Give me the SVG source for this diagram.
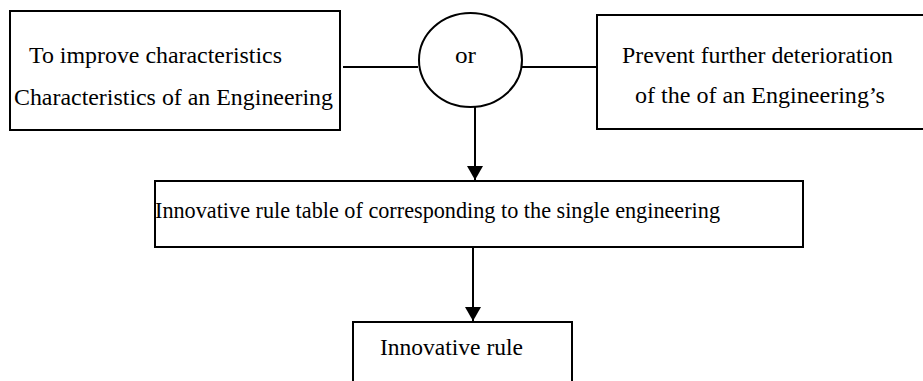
<svg xmlns="http://www.w3.org/2000/svg" width="923" height="381" viewBox="0 0 923 381">
<defs>
<style>
.box{fill:#fff;stroke:#000;stroke-width:2}
.ln{fill:none;stroke:#000;stroke-width:2}
text{font-family:"Liberation Serif","Times New Roman",serif;font-size:24px;fill:#000}
</style>
<marker id="ah" markerWidth="14" markerHeight="16" refX="14" refY="8" orient="auto" markerUnits="userSpaceOnUse">
<path d="M0,0 L14,8 L0,16 Z" fill="#000"/>
</marker>
</defs>
<rect width="923" height="381" fill="#fff"/>
<g id="connectors">
<line class="ln" x1="343" y1="67" x2="418" y2="67"/>
<line class="ln" x1="522" y1="67" x2="597" y2="67"/>
<line class="ln" x1="475" y1="107" x2="475" y2="180" marker-end="url(#ah)"/>
<line class="ln" x1="473" y1="248" x2="473" y2="321" marker-end="url(#ah)"/>
</g>
<g id="left">
<rect class="box" x="10" y="11" width="330" height="119"/>
<text x="29" y="63" textLength="253" lengthAdjust="spacingAndGlyphs">To improve characteristics</text>
<text x="14" y="105" textLength="319" lengthAdjust="spacingAndGlyphs">Characteristics of an Engineering</text>
</g>
<g id="or">
<ellipse class="box" cx="470.5" cy="60" rx="51.5" ry="47"/>
<text x="455" y="63" textLength="21" lengthAdjust="spacingAndGlyphs">or</text>
</g>
<g id="right">
<rect class="box" x="597" y="15" width="340" height="114"/>
<text x="622" y="63" textLength="271" lengthAdjust="spacingAndGlyphs">Prevent further deterioration</text>
<text x="635" y="103" textLength="250" lengthAdjust="spacingAndGlyphs">of the of an Engineering’s</text>
</g>
<g id="table">
<rect class="box" x="155" y="181" width="648" height="66"/>
<text x="155" y="218" textLength="565" lengthAdjust="spacingAndGlyphs">Innovative rule table of corresponding to the single engineering</text>
</g>
<g id="rule">
<rect class="box" x="353" y="322" width="219" height="80"/>
<text x="380" y="355" textLength="143" lengthAdjust="spacingAndGlyphs">Innovative rule</text>
</g>
</svg>
